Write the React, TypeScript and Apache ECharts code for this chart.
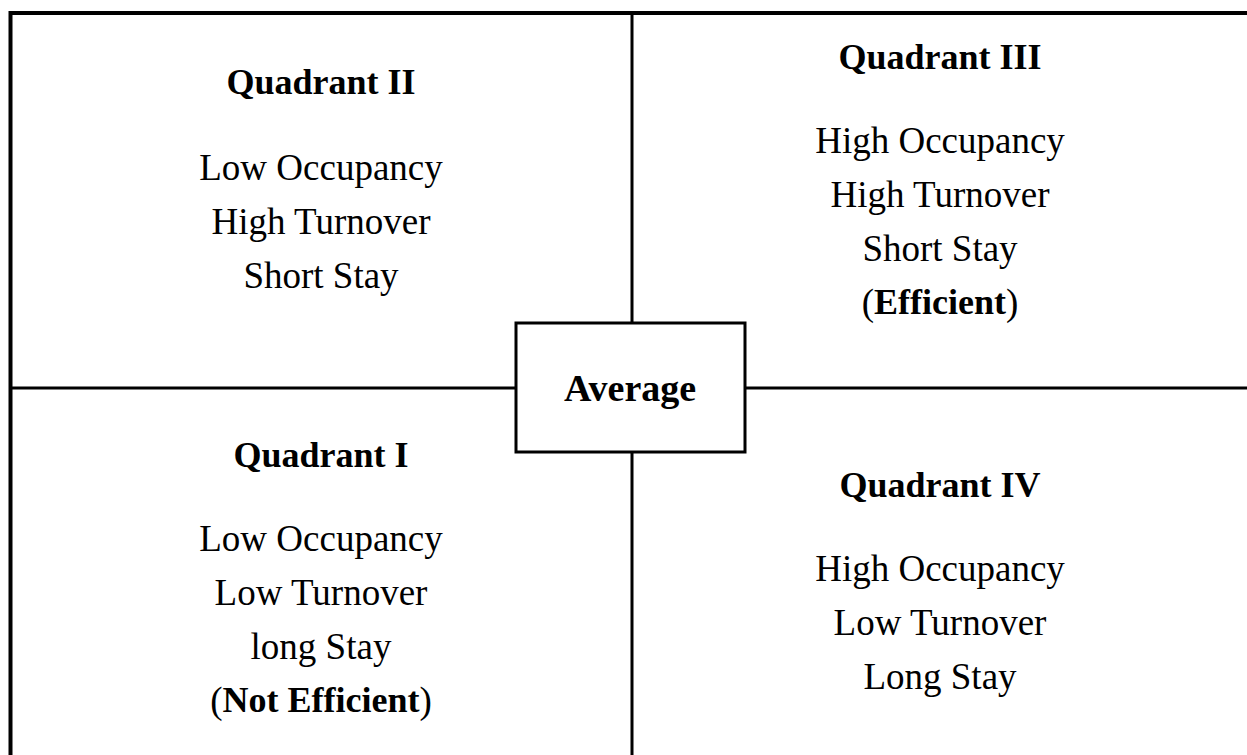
import React, { useEffect, useRef } from "react";
import * as echarts from "echarts";

const quadrantTitles = ["Quadrant II", "Quadrant III", "Quadrant I", "Quadrant IV"];
const quadrantLines: string[][] = [
  ["Low Occupancy", "High Turnover", "Short Stay"],
  ["High Occupancy", "High Turnover", "Short Stay", "({b|Efficient})"],
  ["Low Occupancy", "Low Turnover", "long Stay", "({b|Not Efficient})"],
  ["High Occupancy", "Low Turnover", "Long Stay"],
];
const centerLabel = "Average";

const W = 1247;
const H = 755;
const FONT = "'Liberation Serif', 'Times New Roman', serif";

export default function App() {
  const ref = useRef<HTMLDivElement>(null);
  useEffect(() => {
    if (!ref.current) return;
    const chart = echarts.init(ref.current, null, { renderer: "svg" });
    const cx = [321, 940, 321, 940];
    const titleY = [82, 57, 455, 485];
    const firstLineY = [167, 140, 538, 568];
    const lineGap = 54;
    const graphics: any[] = [];
    const lineStyle = { stroke: "#000", lineWidth: 3 };
    // outer border
    graphics.push({ type: "line", shape: { x1: 10.5, y1: 13, x2: W, y2: 13 }, style: { stroke: "#000", lineWidth: 4 } });
    graphics.push({ type: "line", shape: { x1: 10.5, y1: 11, x2: 10.5, y2: H }, style: { stroke: "#000", lineWidth: 4 } });
    // cross
    graphics.push({ type: "line", shape: { x1: 10, y1: 388, x2: W, y2: 388 }, style: lineStyle });
    graphics.push({ type: "line", shape: { x1: 632, y1: 13, x2: 632, y2: H }, style: lineStyle });
    // center box
    graphics.push({ type: "rect", shape: { x: 516, y: 323, width: 229, height: 129 }, style: { fill: "#fff", stroke: "#000", lineWidth: 3 } });
    graphics.push({
      type: "text", x: 630, y: 388,
      style: { text: centerLabel, font: `bold 38px ${FONT}`, fill: "#000", align: "center", verticalAlign: "middle" },
    });
    quadrantTitles.forEach((t, i) => {
      graphics.push({
        type: "text", x: cx[i], y: titleY[i],
        style: { text: t, font: `bold 36px ${FONT}`, fill: "#000", align: "center", verticalAlign: "middle" },
      });
      quadrantLines[i].forEach((ln, j) => {
        graphics.push({
          type: "text", x: cx[i], y: firstLineY[i] + j * lineGap,
          style: {
            text: ln, font: `37px ${FONT}`, fontFamily: FONT, fontSize: 37, fill: "#000",
            align: "center", verticalAlign: "middle",
            rich: { b: { fontWeight: "bold", fontSize: 36, fontFamily: FONT, fill: "#000" } },
          },
        });
      });
    });
    chart.setOption({ animation: false, backgroundColor: "#fff", graphic: graphics });
    return () => chart.dispose();
  }, []);
  return <div ref={ref} style={{ position: "fixed", left: 0, top: 0, width: W, height: H }} />;
}
